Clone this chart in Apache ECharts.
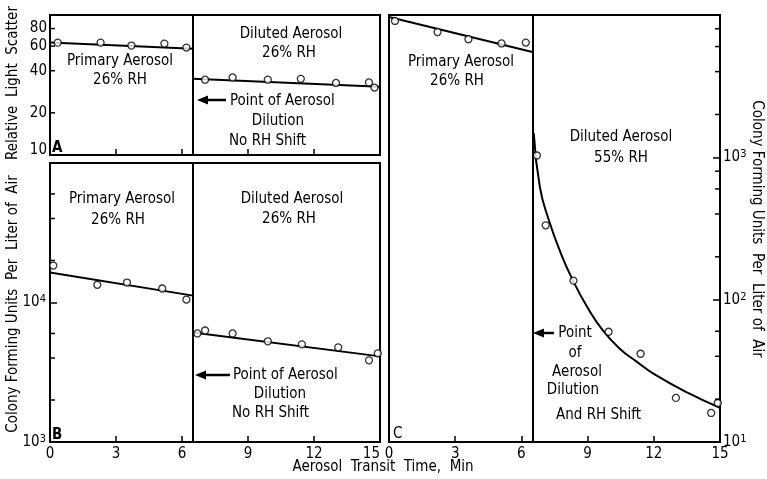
<!DOCTYPE html>
<html>
<head>
<meta charset="utf-8">
<script src="https://cdn.jsdelivr.net/npm/echarts@6/dist/echarts.min.js"></script>
<style>
  html, body { margin: 0; padding: 0; background: #fff; }
  #chart { width: 767px; height: 479px; }
</style>
</head>
<body>
<div id="chart"></div>
<script>
// ---- data ----
// panel A: relative light scatter
const aPrimT = [0.35, 2.3, 3.7, 5.2, 6.2];
const aPrimV = [63.5, 63.5, 60.5, 62.5, 58.5];
const aPrimFitT = [0, 6.5];
const aPrimFitV = [63.5, 57.5];
const aDilT = [7.05, 8.3, 9.9, 11.4, 13.0, 14.5, 14.75];
const aDilV = [34.5, 35.8, 34.5, 35.0, 32.7, 33.0, 30.3];
const aDilFitT = [6.5, 15];
const aDilFitV = [35.1, 30.7];
const aTickLabels = [10, 20, 40, 60, 80];

// panel B: colony forming units, no RH shift
const bPrimT = [0.15, 2.15, 3.5, 5.1, 6.2];
const bPrimV = [18400, 13400, 13900, 12600, 10500];
const bPrimFitT = [0, 6.5];
const bPrimFitV = [16400, 11200];
const bDilT = [6.7, 7.05, 8.3, 9.9, 11.45, 13.1, 14.5, 14.9];
const bDilV = [6000, 6300, 6000, 5270, 5010, 4770, 3850, 4320];
const bDilFitT = [6.5, 15];
const bDilFitV = [6100, 4110];
const bMinor = [2000, 4000, 6000, 20000, 40000, 60000];

// panel C: colony forming units, RH shift to 55%
const cPrimT = [0.27, 2.2, 3.6, 5.1, 6.2];
const cPrimV = [9080, 7590, 6760, 6310, 6400];
const cPrimFitT = [0, 6.5];
const cPrimFitV = [9680, 5490];
const cDilT = [6.7, 7.1, 8.36, 9.95, 11.4, 13.0, 14.6, 14.9];
const cDilV = [1030, 333, 136, 59.5, 41.7, 20.4, 16, 18.8];
const cCurveT = [6.56, 6.84, 7.25, 7.79, 8.34, 8.97, 9.7, 10.51, 11.19, 12.0, 13.55, 15.0];
const cCurveV = [1480, 615, 360, 211, 136, 89.5, 60.5, 44.5, 37.0, 30.1, 22.1, 17.4];
const cMinor = [20, 40, 60, 200, 400, 600, 800, 2000, 4000, 6000, 8000];

const dilutionAt = 6.5;

const FONT = '"DejaVu Sans Condensed", "Liberation Sans Narrow", sans-serif';
const pair = (t, v) => t.map((x, i) => [x, v[i]]);

function dots(gi, t, v) {
  return {
    type: 'scatter', xAxisIndex: gi, yAxisIndex: gi, z: 4,
    data: pair(t, v), symbol: 'circle', symbolSize: 7,
    itemStyle: { color: '#fff', borderColor: '#000', borderWidth: 1.3 },
    silent: true
  };
}

function fitLine(gi, t, v, extra) {
  return Object.assign({
    type: 'line', xAxisIndex: gi, yAxisIndex: gi, z: 3,
    data: pair(t, v), showSymbol: false, silent: true,
    lineStyle: { color: '#000', width: 2 }
  }, extra || {});
}

function divider() {
  return {
    silent: true, symbol: 'none', label: { show: false },
    lineStyle: { color: '#000', width: 2, type: 'solid' },
    data: [{ xAxis: dilutionAt }]
  };
}

// minor / labelled ticks drawn through the axis scale
function ticks(gi, edge, dir, values, withLabels) {
  return {
    type: 'custom', xAxisIndex: gi, yAxisIndex: gi, silent: true, clip: false, z: 5,
    data: values.map(v => [edge, v]),
    renderItem: function (params, api) {
      const p = api.coord([api.value(0), api.value(1)]);
      const kids = [{
        type: 'line',
        shape: { x1: p[0], y1: p[1], x2: p[0] + dir * 5, y2: p[1] },
        style: { stroke: '#000', lineWidth: 1.5 }
      }];
      if (withLabels) {
        const val = api.value(1);
        kids.push({
          type: 'text', x: p[0] - 3, y: val === 10 ? p[1] - 5 : p[1],
          style: { text: String(val), font: '15px ' + FONT, fill: '#000',
                   align: 'right', verticalAlign: 'middle' }
        });
      }
      return { type: 'group', children: kids };
    }
  };
}

function xAx(gi, labels, alignMax) {
  return {
    gridIndex: gi, type: 'value', min: 0, max: 15, interval: 3,
    axisLine: { show: false, onZero: false },
    axisTick: { inside: true, length: 6, lineStyle: { color: '#000', width: 1.5 } },
    axisLabel: { show: labels, color: '#000', fontSize: 15, fontFamily: FONT, margin: 5,
                 alignMaxLabel: alignMax ? 'right' : null },
    splitLine: { show: false }
  };
}

const supRich = {
  b: { fontSize: 15, fontFamily: FONT, color: '#000' },
  s: { fontSize: 11, fontFamily: FONT, color: '#000', verticalAlign: 'top', padding: [0, 0, 6, 0] }
};

function txt(x, y, s, align, extra) {
  return Object.assign({
    type: 'text', x: x, y: y, silent: true,
    style: { text: s, font: '15px ' + FONT, fill: '#000',
             align: align || 'center', verticalAlign: 'middle',
             textAlign: align || 'center', textVerticalAlign: 'middle' }
  }, extra || {});
}

function letter(x, y, s) {
  return {
    type: 'text', x: x, y: y, silent: true,
    style: { text: s, font: 'bold 15px ' + FONT, fill: '#000', align: 'left', verticalAlign: 'middle' }
  };
}

function arrow(x1, x2, y) {
  return {
    type: 'group', silent: true, children: [
      { type: 'line', shape: { x1: x1 + 8, y1: y, x2: x2, y2: y }, style: { stroke: '#000', lineWidth: 2.5 } },
      { type: 'polygon', shape: { points: [[x1, y], [x1 + 11, y - 4.5], [x1 + 11, y + 4.5]] }, style: { fill: '#000' } }
    ]
  };
}

const grids = [
  { left: 50, top: 15, width: 330, height: 140 },
  { left: 50, top: 163, width: 330, height: 279 },
  { left: 389, top: 15, width: 331, height: 427 }
].map(g => Object.assign(g, { show: true, borderColor: '#000', borderWidth: 2, backgroundColor: 'transparent' }));

const option = {
  animation: false,
  backgroundColor: '#fff',
  grid: grids,
  xAxis: [xAx(0, false, false), xAx(1, true, true), xAx(2, true, false)],
  yAxis: [
    { gridIndex: 0, type: 'log', min: 10, max: 100,
      axisLine: { show: false, onZero: false }, axisTick: { show: false }, axisLabel: { show: false }, splitLine: { show: false } },
    { gridIndex: 1, type: 'log', min: 1000, max: 100000,
      axisLine: { show: false, onZero: false },
      axisTick: { inside: true, length: 7, lineStyle: { color: '#000', width: 1.5 } },
      axisLabel: { margin: 4, formatter: v => { const e = Math.round(Math.log10(v)); return e === 5 ? '' : '{b|10}{s|' + e + '}'; }, rich: supRich },
      splitLine: { show: false } },
    { gridIndex: 2, type: 'log', min: 10, max: 10000, position: 'right',
      axisLine: { show: false, onZero: false },
      axisTick: { inside: true, length: 7, lineStyle: { color: '#000', width: 1.5 } },
      axisLabel: { margin: 3, formatter: v => { const e = Math.round(Math.log10(v)); return e === 4 ? '' : '{b|10}{s|' + e + '}'; }, rich: supRich },
      splitLine: { show: false } }
  ],
  series: [
    fitLine(0, aPrimFitT, aPrimFitV, { markLine: divider() }),
    fitLine(0, aDilFitT, aDilFitV),
    dots(0, aPrimT, aPrimV),
    dots(0, aDilT, aDilV),
    ticks(0, 0, 1, aTickLabels, true),

    fitLine(1, bPrimFitT, bPrimFitV, { markLine: divider() }),
    fitLine(1, bDilFitT, bDilFitV),
    dots(1, bPrimT, bPrimV),
    dots(1, bDilT, bDilV),
    ticks(1, 0, 1, bMinor, false),

    fitLine(2, cPrimFitT, cPrimFitV, { markLine: divider() }),
    fitLine(2, cCurveT, cCurveV, { smooth: 0.5 }),
    dots(2, cPrimT, cPrimV),
    dots(2, cDilT, cDilV),
    ticks(2, 15, -1, cMinor, false)
  ],
  graphic: [
    // panel A
    txt(120, 61, 'Primary Aerosol'), txt(120, 80, '26% RH'),
    txt(291, 34, 'Diluted Aerosol'), txt(289, 53, '26% RH'),
    arrow(197, 226, 100),
    txt(230, 101, 'Point of Aerosol', 'left'),
    txt(278, 121, 'Dilution'),
    txt(229, 141, 'No RH Shift', 'left'),
    letter(52, 148, 'A'),
    // panel B
    txt(122, 199, 'Primary Aerosol'), txt(118, 220, '26% RH'),
    txt(292, 199, 'Diluted Aerosol'), txt(289, 219, '26% RH'),
    arrow(195, 230, 375),
    txt(233, 375, 'Point of Aerosol', 'left'),
    txt(280, 394, 'Dilution'),
    txt(232, 413, 'No RH Shift', 'left'),
    letter(52, 435, 'B'),
    // panel C
    txt(461, 62, 'Primary Aerosol'), txt(457, 81, '26% RH'),
    txt(621, 137, 'Diluted Aerosol'), txt(621, 158, '55% RH'),
    arrow(533, 554, 333),
    txt(575, 333, 'Point'), txt(575, 353, 'of'), txt(577, 372, 'Aerosol'), txt(573, 390, 'Dilution'),
    txt(556, 415, 'And RH Shift', 'left'),
    txt(393, 434, 'C', 'left'),
    // axis titles
    txt(13, 83, 'Relative  Light  Scatter', 'center', { rotation: Math.PI / 2 }),
    txt(13, 304, 'Colony Forming Units  Per  Liter of  Air', 'center', { rotation: Math.PI / 2 }),
    txt(757, 229, 'Colony Forming Units  Per  Liter of  Air', 'center', { rotation: -Math.PI / 2 }),
    txt(383, 467, 'Aerosol  Transit  Time,  Min')
  ]
};

const chart = echarts.init(document.getElementById('chart'), null, { renderer: 'canvas' });
chart.setOption(option);
</script>
</body>
</html>
